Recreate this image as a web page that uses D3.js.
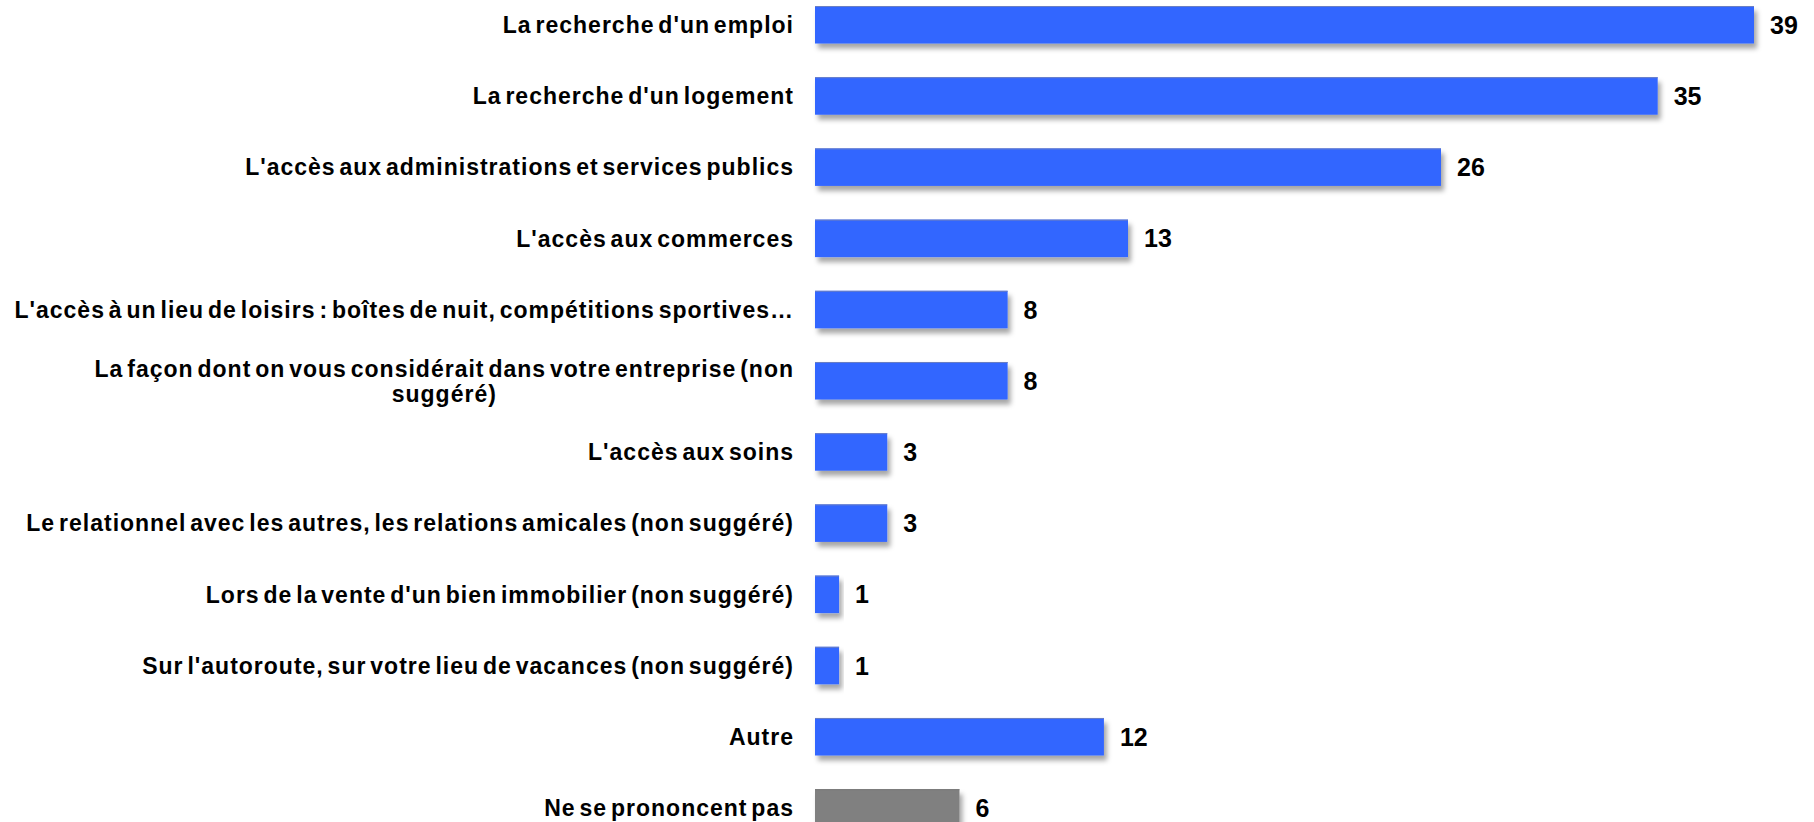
<!DOCTYPE html>
<html>
<head>
<meta charset="utf-8">
<title>Discriminations</title>
<style>
body {
    margin: 0;
    background: #fff;
}

#chart {
    display: block;
}

#chart text {
    font-family: "Liberation Sans", Arial, sans-serif;
    font-weight: bold;
    fill: #000;
}

#chart .cat {
    font-size: 23px;
    letter-spacing: 1px;
    word-spacing: -3.5px;
}

#chart .val {
    font-size: 25px;
}
</style>
</head>
<body>

<script src="https://cdn.jsdelivr.net/npm/d3@7"></script>

<svg id="chart" width="1814" height="822"></svg>

<script>
const categories = [
    "La recherche d'un emploi",
    "La recherche d'un logement",
    "L'accès aux administrations et services publics",
    "L'accès aux commerces",
    "L'accès à un lieu de loisirs : boîtes de nuit, compétitions sportives…",
    "La façon dont on vous considérait dans votre entreprise (non|suggéré)",
    "L'accès aux soins",
    "Le relationnel avec les autres, les relations amicales (non suggéré)",
    "Lors de la vente d'un bien immobilier (non suggéré)",
    "Sur l'autoroute, sur votre lieu de vacances (non suggéré)",
    "Autre",
    "Ne se prononcent pas"
];
const values = [39, 35, 26, 13, 8, 8, 3, 3, 1, 1, 12, 6];
const colors = ['#3366ff', '#3366ff', '#3366ff', '#3366ff', '#3366ff', '#3366ff',
                '#3366ff', '#3366ff', '#3366ff', '#3366ff', '#3366ff', '#808080'];

const barLeft = 815;
const labelRight = 794;

const svg = d3.select('#chart');

const defs = svg.append('defs');
const shadow = defs.append('filter')
    .attr('id', 'shadow')
    .attr('x', '-10%').attr('y', '-20%')
    .attr('width', '130%').attr('height', '160%');
shadow.append('feDropShadow')
    .attr('dx', 3)
    .attr('dy', 5)
    .attr('stdDeviation', 2.5)
    .attr('flood-color', '#000')
    .attr('flood-opacity', 0.35);

const x = d3.scaleLinear()
    .domain([0, 39])
    .range([barLeft, 1754]);

const y = d3.scaleBand()
    .domain(d3.range(categories.length))
    .range([6, 826.7])
    .paddingInner(0.473)
    .paddingOuter(0);

const rows = svg.selectAll('.row')
    .data(categories.map((c, i) => ({ label: c, value: values[i], color: colors[i], i })))
    .join('g')
    .attr('class', 'row');

rows.append('rect')
    .attr('x', x(0))
    .attr('y', d => y(d.i))
    .attr('width', d => x(d.value) - x(0))
    .attr('height', y.bandwidth())
    .attr('fill', d => d.color)
    .attr('filter', 'url(#shadow)');

// thin darker edge along the top of each bar
rows.append('line')
    .attr('x1', x(0))
    .attr('x2', d => x(d.value))
    .attr('y1', d => y(d.i) + 0.5)
    .attr('y2', d => y(d.i) + 0.5)
    .attr('stroke', d => d.i === 11 ? '#777' : '#6a7fc4')
    .attr('stroke-width', 1);

rows.append('text')
    .attr('class', 'val')
    .attr('x', d => x(d.value) + 16)
    .attr('y', d => y(d.i) + y.bandwidth() / 2)
    .attr('dy', '0.36em')
    .text(d => d.value);

rows.each(function(d){
    const lines = d.label.split('|');
    const g = d3.select(this);
    const cy = y(d.i) + y.bandwidth() / 2;
    const lineH = 25;
    const startY = cy - (lines.length - 1) * lineH / 2;

    if (lines.length === 1){
        g.append('text')
            .attr('class', 'cat')
            .attr('text-anchor', 'end')
            .attr('x', labelRight)
            .attr('y', cy)
            .attr('dy', '0.36em')
            .text(lines[0]);
        return;
    }

    // wrapped label: all lines centred on each other, then the block is
    // slid so the first (longest) line ends against the bars
    const lg = g.append('g');
    const t = lg.append('text')
        .attr('class', 'cat')
        .attr('text-anchor', 'middle');
    const spans = lines.map((ln, k) => t.append('tspan')
        .attr('x', 0)
        .attr('y', startY + k * lineH)
        .attr('dy', '0.36em')
        .text(ln));
    const node = spans[0].node();
    const n = node.getNumberOfChars();
    const end = node.getEndPositionOfChar(n - 1).x;
    lg.attr('transform', `translate(${labelRight - end},0)`);
});
</script>
</body>
</html>
